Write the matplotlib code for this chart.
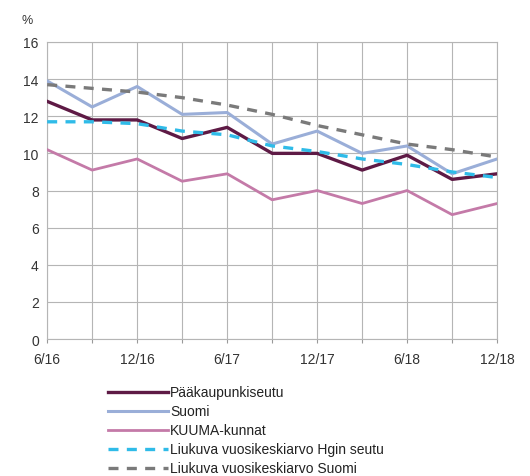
import matplotlib.pyplot as plt

plt.rcParams['font.family'] = ['Liberation Sans', 'DejaVu Sans']

quarters = ['6/16', '9/16', '12/16', '3/17', '6/17', '9/17', '12/17', '3/18', '6/18', '9/18', '12/18']
paakaupunkiseutu = [12.8, 11.8, 11.8, 10.8, 11.4, 10.0, 10.0, 9.1, 9.9, 8.6, 8.9]
suomi = [13.9, 12.5, 13.6, 12.1, 12.2, 10.5, 11.2, 10.0, 10.4, 8.9, 9.7]
kuuma = [10.2, 9.1, 9.7, 8.5, 8.9, 7.5, 8.0, 7.3, 8.0, 6.7, 7.3]
liukuva_hgin = [11.7, 11.7, 11.6, 11.2, 11.0, 10.4, 10.1, 9.7, 9.4, 9.0, 8.7]
liukuva_suomi = [13.7, 13.5, 13.3, 13.0, 12.6, 12.1, 11.5, 11.0, 10.5, 10.2, 9.8]

x = list(range(len(quarters)))

fig = plt.figure(figsize=(5.3, 4.77), dpi=100)
ax = fig.add_axes([0.089, 0.287, 0.849, 0.623])

ax.plot(x, paakaupunkiseutu, color='#5e1a45', lw=2.4, label='Pääkaupunkiseutu', zorder=5)
ax.plot(x, suomi, color='#9aaed8', lw=2.2, label='Suomi', zorder=4)
ax.plot(x, kuuma, color='#c47aa8', lw=2.0, label='KUUMA-kunnat', zorder=3)
ax.plot(x, liukuva_hgin, color='#2fbbe8', lw=2.4, ls=(0, (3, 2.5)), label='Liukuva vuosikeskiarvo Hgin seutu', zorder=6)
ax.plot(x, liukuva_suomi, color='#7a7a7a', lw=2.4, ls=(0, (3, 2.5)), label='Liukuva vuosikeskiarvo Suomi', zorder=6)

ax.set_xlim(0, 10)
ax.set_ylim(0, 16)
ax.set_yticks(range(0, 17, 2))
ax.set_xticks(x)
ax.set_xticklabels([q if i % 2 == 0 else '' for i, q in enumerate(quarters)])
ax.grid(True, color='#b5b5b5', lw=0.8)
ax.set_axisbelow(True)
for s in ax.spines.values():
    s.set_color('#b5b5b5')
ax.tick_params(axis='both', colors='#333333', labelsize=10, length=3)
ax.tick_params(axis='y', length=0, pad=6)
ax.tick_params(axis='x', color='#999999', pad=6)

fig.text(0.04, 0.955, '%', fontsize=9, color='#333333', ha='left', va='center')

ax.legend(loc='upper left', bbox_to_anchor=(0.204, 0.19), bbox_transform=fig.transFigure,
          frameon=False, fontsize=10, handlelength=4.3, handletextpad=0.15,
          labelspacing=0.36, borderpad=0, borderaxespad=0, labelcolor='#222222')

fig.savefig('out.png', dpi=100)
